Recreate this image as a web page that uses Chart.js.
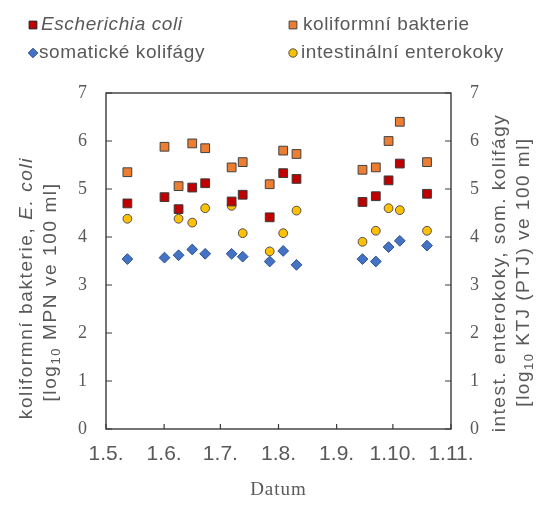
<!DOCTYPE html>
<html>
<head>
<meta charset="utf-8">
<script src="https://cdn.jsdelivr.net/npm/chart.js@4.4.0/dist/chart.umd.min.js"></script>
<style>
  html, body { margin: 0; padding: 0; background: #fff; }
  #wrap { width: 539px; height: 509px; }
</style>
</head>
<body>
<div id="wrap"><canvas id="chart" width="539" height="509"></canvas></div>
<script>
// Sampling days, counted in days from 1.5.
const sampleDays = [11.4, 31.2, 38.7, 46.0, 52.9, 67.0, 72.9, 87.3, 94.5, 101.6, 136.8, 143.9, 150.7, 156.7, 171.2];

// log10 values per sampling day
const ecoli    = [4.70, 4.83, 4.58, 5.03, 5.12, 4.74, 4.88, 4.41, 5.33, 5.21, 4.73, 4.85, 5.18, 5.53, 4.90];
const koliform = [5.35, 5.88, 5.06, 5.95, 5.85, 5.45, 5.56, 5.10, 5.80, 5.73, 5.40, 5.45, 6.00, 6.40, 5.56];
const somatic  = [3.54, 3.57, 3.62, 3.74, 3.65, 3.65, 3.59, 3.49, 3.71, 3.42, 3.54, 3.49, 3.79, 3.92, 3.82];
const entero   = [4.38, null, 4.38, 4.30, 4.60, 4.65, 4.08, 3.70, 4.08, 4.55, 3.90, 4.13, 4.60, 4.56, 4.13];

const seriesNames = ['Escherichia coli', 'koliformní bakterie', 'somatické kolifágy', 'intestinální enterokoky'];

// x axis: first day of each month
const monthStarts = [0, 31, 61, 92, 123, 153, 184];
const monthLabels = ['1.5.', '1.6.', '1.7.', '1.8.', '1.9.', '1.10.', '1.11.'];

const textGray = '#595959';
const sans = '"Liberation Sans", Arial, sans-serif';
const serif = '"Liberation Serif", "Times New Roman", serif';

function toPoints(values) {
    const pts = [];
    values.forEach((v, i) => {
        if (v !== null) pts.push({ x: sampleDays[i], y: v });
    });
    return pts;
}

const markerStyles = [
    { pointStyle: 'rect', radius: 6.2, bg: '#C00000', border: '#3a3a3a' },
    { pointStyle: 'rect', radius: 6.2, bg: '#ED7D31', border: '#404040' },
    { pointStyle: 'rectRot', radius: 5.4, bg: '#4472C4', border: '#2F528F' },
    { pointStyle: 'circle', radius: 4.4, bg: '#FFC000', border: '#505050' }
];

const seriesValues = [ecoli, koliform, somatic, entero];
const axisIds = ['y', 'y', 'y2', 'y2'];

const datasets = seriesValues.map((vals, i) => ({
    label: seriesNames[i],
    data: toPoints(vals),
    yAxisID: axisIds[i],
    pointStyle: markerStyles[i].pointStyle,
    pointRadius: markerStyles[i].radius,
    pointBackgroundColor: markerStyles[i].bg,
    pointBorderColor: markerStyles[i].border,
    pointBorderWidth: 1,
    showLine: false
}));

// draw text made of several runs (italic, subscript) centred at cx, cy
function drawRuns(ctx, runs, cx, cy, spacing) {
    ctx.save();
    ctx.letterSpacing = spacing + 'px';
    let total = 0;
    runs.forEach(r => {
        ctx.font = r.font;
        r.w = ctx.measureText(r.text).width;
        total += r.w;
    });
    let x = cx - total / 2;
    ctx.textAlign = 'left';
    ctx.textBaseline = 'middle';
    ctx.fillStyle = textGray;
    runs.forEach(r => {
        ctx.font = r.font;
        ctx.fillText(r.text, x, cy + (r.dy || 0));
        x += r.w;
    });
    ctx.restore();
}

function drawRotated(ctx, runs, cx, cy, spacing) {
    ctx.save();
    ctx.translate(cx, cy);
    ctx.rotate(-Math.PI / 2);
    drawRuns(ctx, runs, 0, 0, spacing);
    ctx.restore();
}

// frame around the plot with inward tick marks
const framePlugin = {
    id: 'frame',
    beforeDatasetsDraw(chart) {
        const ctx = chart.ctx;
        const a = chart.chartArea;
        ctx.save();
        ctx.strokeStyle = '#3a3a3a';
        ctx.lineWidth = 1.4;
        ctx.strokeRect(a.left, a.top, a.right - a.left, a.bottom - a.top);
        ctx.lineWidth = 1.2;
        ctx.beginPath();
        chart.scales.x.ticks.forEach(t => {
            const px = chart.scales.x.getPixelForValue(t.value);
            ctx.moveTo(px, a.bottom);
            ctx.lineTo(px, a.bottom - 5);
        });
        chart.scales.y.ticks.forEach(t => {
            const py = chart.scales.y.getPixelForValue(t.value);
            ctx.moveTo(a.left, py);
            ctx.lineTo(a.left + 6, py);
        });
        chart.scales.y2.ticks.forEach(t => {
            const py = chart.scales.y2.getPixelForValue(t.value);
            ctx.moveTo(a.right, py);
            ctx.lineTo(a.right - 6, py);
        });
        ctx.stroke();
        ctx.restore();
    }
};

// legend and axis titles
const textPlugin = {
    id: 'texts',
    afterDraw(chart) {
        const ctx = chart.ctx;
        const a = chart.chartArea;
        const f = '19px ' + sans;
        const fi = 'italic 19px ' + sans;
        const ts = '13px ' + sans;

        // legend
        const legendPos = [
            { mx: 33, tx: 41, y: 25 },
            { mx: 293, tx: 303, y: 25 },
            { mx: 33, tx: 39, y: 53 },
            { mx: 293, tx: 301, y: 53 }
        ];
        const legendRadius = [5.5, 5.5, 4.8, 4.2];
        legendPos.forEach((p, i) => {
            ctx.save();
            ctx.fillStyle = markerStyles[i].bg;
            ctx.strokeStyle = i === 0 ? '#202020' : markerStyles[i].border;
            ctx.lineWidth = 1;
            Chart.helpers.drawPoint(ctx, { pointStyle: markerStyles[i].pointStyle, radius: legendRadius[i], rotation: 0, borderWidth: 1 }, p.mx, p.y);
            ctx.restore();
            ctx.save();
            ctx.letterSpacing = '0.6px';
            ctx.font = i === 0 ? fi : f;
            ctx.fillStyle = textGray;
            ctx.textAlign = 'left';
            ctx.textBaseline = 'middle';
            ctx.fillText(seriesNames[i], p.tx, p.y);
            ctx.restore();
        });

        // left axis title
        drawRotated(ctx, [{ text: 'koliformní bakterie, ', font: f }, { text: 'E. coli', font: fi }], 27, 288, 1.6);
        drawRotated(ctx, [{ text: '[log', font: f }, { text: '10', font: ts, dy: 5 }, { text: ' MPN ve 100 ml]', font: f }], 51, 292, 1.6);

        // right axis title
        drawRotated(ctx, [{ text: 'intest. enterokoky, som. kolifágy', font: f }], 500, 273, 1.5);
        drawRotated(ctx, [{ text: '[log', font: f }, { text: '10', font: ts, dy: 5 }, { text: ' KTJ (PTJ) ve 100 ml]', font: f }], 524, 272, 1.5);

        // x axis title
        ctx.save();
        ctx.letterSpacing = '1px';
        ctx.font = '19px ' + serif;
        ctx.fillStyle = textGray;
        ctx.textAlign = 'center';
        ctx.textBaseline = 'middle';
        ctx.fillText('Datum', (a.left + a.right) / 2, 490);
        ctx.restore();
    }
};

new Chart(document.getElementById('chart'), {
    type: 'scatter',
    data: { datasets: datasets },
    options: {
        responsive: false,
        animation: false,
        layout: { padding: { top: 93, left: 0, right: 0, bottom: 0 } },
        plugins: {
            legend: { display: false },
            tooltip: { enabled: false }
        },
        scales: {
            x: {
                type: 'linear',
                min: 0,
                max: 184,
                afterBuildTicks: scale => {
                    scale.ticks = monthStarts.map(v => ({ value: v }));
                },
                afterFit: scale => { scale.height = 80; },
                ticks: {
                    callback: (value, index) => monthLabels[index],
                    font: { family: sans, size: 21 },
                    color: textGray,
                    padding: 13,
                    maxRotation: 0,
                    autoSkip: false
                },
                grid: { display: false, drawTicks: false },
                border: { display: false }
            },
            y: {
                position: 'left',
                min: 0,
                max: 7,
                afterFit: scale => { scale.width = 106; },
                ticks: { stepSize: 1, font: { family: serif, size: 18 }, color: textGray, padding: 19 },
                grid: { display: false, drawTicks: false },
                border: { display: false }
            },
            y2: {
                position: 'right',
                min: 0,
                max: 7,
                afterFit: scale => { scale.width = 88; },
                ticks: { stepSize: 1, font: { family: serif, size: 18 }, color: textGray, padding: 19 },
                grid: { display: false, drawTicks: false },
                border: { display: false }
            }
        }
    },
    plugins: [framePlugin, textPlugin]
});
</script>
</body>
</html>
